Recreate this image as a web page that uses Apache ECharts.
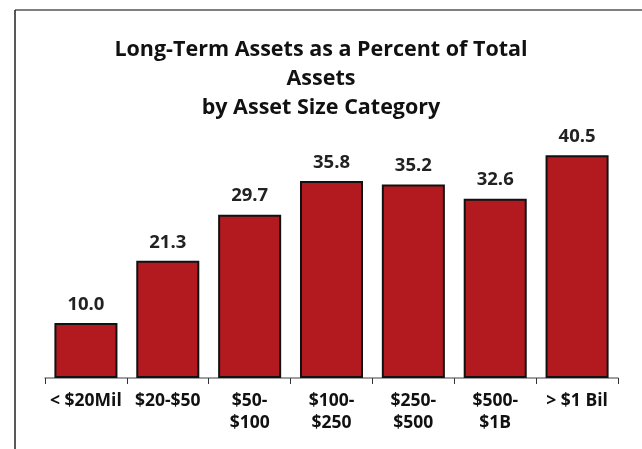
<!DOCTYPE html>
<html>
<head>
<meta charset="utf-8">
<script src="https://cdn.jsdelivr.net/npm/echarts@6/dist/echarts.min.js"></script>
<style>html,body{margin:0;padding:0;background:#fff;}#c{width:642px;height:449px;}</style>
</head>
<body>
<div id="c"></div>
<script>
var titleText = 'Long-Term Assets as a Percent of Total\nAssets\nby Asset Size Category';
var categories = ['< $20Mil', '$20-$50', '$50-\n$100', '$100-\n$250', '$250-\n$500', '$500-\n$1B', '> $1 Bil'];
var values = [10.0, 21.3, 29.7, 35.8, 35.2, 32.6, 40.5];

var chart = echarts.init(document.getElementById('c'));
var FONT = 'Open Sans';
chart.setOption({
  animation: false,
  backgroundColor: '#ffffff',
  title: {
    text: titleText,
    left: 'center',
    top: 30,
    padding: [5, 0, 5, 7],
    textStyle: { fontFamily: FONT, fontWeight: 'bold', fontSize: 21.5, lineHeight: 29, color: '#111' }
  },
  graphic: [
    { type: 'line', shape: { x1: 15, y1: 10, x2: 642, y2: 10 }, style: { stroke: '#808080', lineWidth: 2 } },
    { type: 'line', shape: { x1: 15, y1: 10, x2: 15, y2: 449 }, style: { stroke: '#222', lineWidth: 1.5 } }
  ],
  grid: { left: 45, right: 24, top: 130.5, bottom: 71, containLabel: false },
  xAxis: {
    type: 'category',
    data: categories,
    axisLine: { lineStyle: { color: '#808080', width: 1.5 } },
    axisTick: { show: true, length: 6, lineStyle: { color: '#333', width: 1 } },
    axisLabel: { fontFamily: FONT, fontWeight: 'bold', fontSize: 17.5, lineHeight: 22, color: '#111', margin: 12, interval: 0 }
  },
  yAxis: {
    type: 'value', min: 0, max: 45, show: false, splitLine: { show: false }
  },
  series: [{
    type: 'bar',
    data: values,
    barWidth: '77%',
    itemStyle: { color: '#B31A20', borderColor: '#111', borderWidth: 2 },
    label: {
      show: true, position: 'top', distance: 9,
      formatter: function (p) { return p.value.toFixed(1); },
      fontFamily: FONT, fontWeight: 'bold', fontSize: 18.5, color: '#222'
    }
  }]
});
</script>
</body>
</html>
